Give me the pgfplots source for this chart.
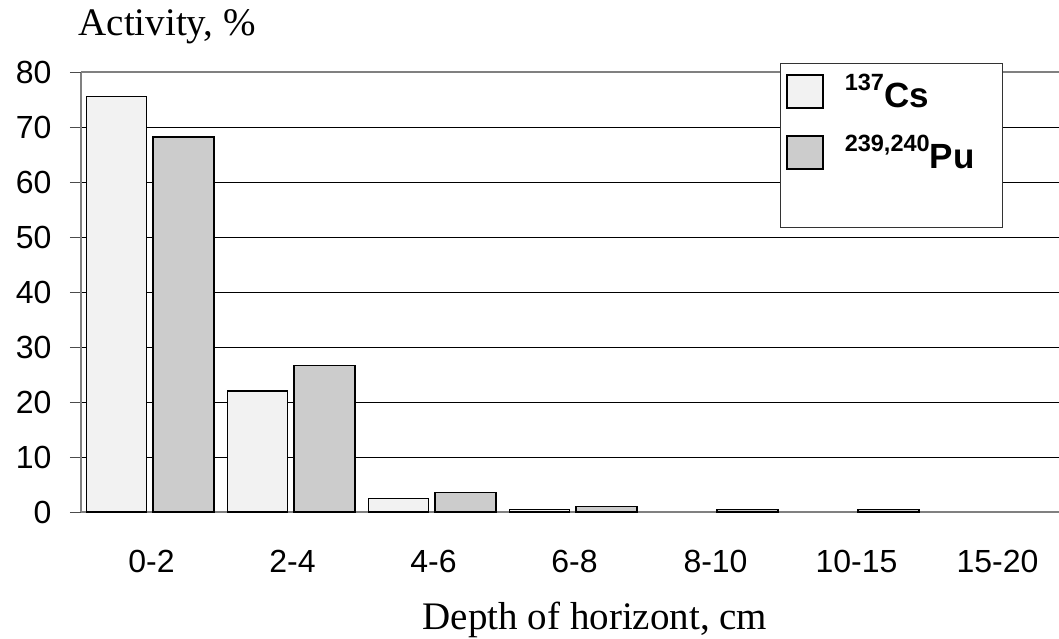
\documentclass[border=0pt]{standalone}
\usepackage{fontspec}
\setmainfont{Liberation Serif}
\setsansfont{Liberation Sans}
\usepackage{pgfplots}
\pgfplotsset{compat=1.18}

\definecolor{csfill}{HTML}{F2F2F2}
\definecolor{pufill}{HTML}{CCCCCC}
\definecolor{spine}{HTML}{808080}

% isotope label: mass number raised and set small before the element symbol
\newcommand{\iso}[2]{\hspace{19pt}\raisebox{17pt}{\fontsize{23.5}{23.5}\selectfont #1}#2\kern 20pt\relax}

\begin{document}
\begin{tikzpicture}[x=1pt,y=1pt]
\begin{axis}[
  name=ax,
  scale only axis, width=978pt, height=440pt,
  xmin=-0.5, xmax=6.436, ymin=0, ymax=80,
  axis x line*=bottom, axis y line*=left,
  axis line style={spine, line width=1.6pt},
  /pgf/number format/assume math mode=true,
  ticklabel style={font=\sffamily\fontsize{32}{32}\selectfont},
  xtick={0,...,6},
  xticklabels={0-2,2-4,4-6,6-8,8-10,10-15,15-20},
  x tick style={draw=none},
  extra x ticks={-0.5,0.5,1.5,2.5,3.5,4.5,5.5},
  extra x tick labels={},
  extra x tick style={tick style={draw=black!70, line width=1pt}, major tick length=11pt, tick align=outside, tick pos=bottom},
  xticklabel style={anchor=base, yshift=-49pt},
  ytick={0,10,...,70},
  extra y ticks={80},
  extra y tick style={grid style={spine, line width=2pt}},
  tick align=outside, tick pos=left,
  major tick length=11pt,
  y tick style={draw=black!70, line width=1pt},
  yticklabel style={anchor=east, xshift=-15pt},
  ymajorgrids,
  grid style={black, line width=0.9pt},
  xlabel={Depth of horizont, cm},
  xlabel style={font=\fontsize{39}{39}\selectfont, at={(rel axis cs:0.5,0)}, anchor=base, xshift=25pt, yshift=-117pt},
  ylabel={Activity, \%},
  ylabel style={font=\fontsize{39}{39}\selectfont, rotate=-90, at={(rel axis cs:0,1)}, anchor=base west, xshift=-6pt, yshift=37pt},
  legend style={at={(rel axis cs:0.7147,1.0205)}, anchor=north west,
    draw=black!80, line width=1pt, fill=white,
    font=\sffamily\bfseries\fontsize{35}{35}\selectfont,
    inner xsep=6pt, inner ysep=9pt, row sep=22pt},
  legend cell align=left,
  legend image code/.code={\draw[#1, line width=1.3pt] (0pt,-16pt) rectangle (36pt,17pt);},
]
\addplot[ybar, bar width=60pt, bar shift=-35pt, fill=csfill, draw=black, line width=1.3pt]
  coordinates {(0,75.6) (1,22.0) (2,2.5) (3,0.4)};
\addlegendentry{\iso{137}{Cs}}
\addplot[ybar, bar width=61pt, bar shift=32pt, fill=pufill, draw=black, line width=1.3pt]
  coordinates {(0,68.2) (1,26.7) (2,3.6) (3,1.0) (4,0.5) (5,0.5)};
\addlegendentry{\iso{239,240}{Pu}}
\addlegendimage{empty legend}
\addlegendentry{\rule{0pt}{19pt}}
\end{axis}
\pgfresetboundingbox
\path[use as bounding box] (ax.south west) ++(-81,-126) rectangle ++(1059,638);
\end{tikzpicture}
\end{document}
